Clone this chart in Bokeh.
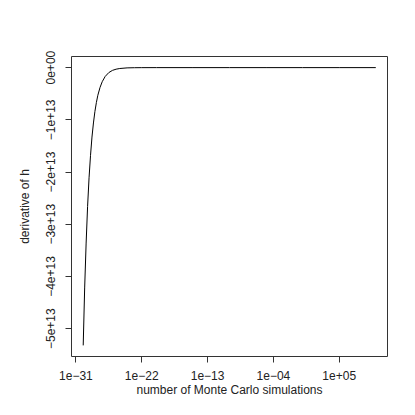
from bokeh.plotting import figure
from bokeh.models import Range1d, FixedTicker
from bokeh.embed import file_html
from bokeh.resources import INLINE

# data
sims = [1e-30, 10**-29.8, 10**-29.6, 10**-29.4, 10**-29.2, 1e-29, 10**-28.8, 10**-28.6,
        10**-28.4, 10**-28.2, 1e-28, 10**-27.7, 10**-27.4, 1e-27, 10**-26.5, 1e-26,
        10**-25.5, 1e-25, 1e-24, 1e-23, 1e-22, 1e-20, 1e-15, 1e-10, 1e-5, 1e0, 1e5, 1e10]
deriv = [-5.32e13, -4.22e13, -3.36e13, -2.66e13, -2.11e13, -1.68e13, -1.33e13, -1.06e13,
         -0.84e13, -0.67e13, -0.53e13, -0.38e13, -0.27e13, -0.17e13, -0.095e13, -0.053e13,
         -0.030e13, -0.017e13, -0.005e13, -0.0017e13, -0.0005e13, -0.00005e13, 0.0, 0.0, 0.0, 0.0, 0.0, 0.0]

x_ticks = [1e-31, 1e-22, 1e-13, 1e-4, 1e5]
x_tick_labels = ["1e\u221231", "1e\u221222", "1e\u221213", "1e\u221204", "1e+05"]
y_ticks = [0.0, -1e13, -2e13, -3e13, -4e13, -5e13]
y_tick_labels = ["0e+00", "\u22121e+13", "\u22122e+13", "\u22123e+13", "\u22124e+13", "\u22125e+13"]

FONT = "Liberation Sans"

p = figure(width=399, height=399, x_axis_type="log", output_backend="svg",
           toolbar_location=None,
           x_range=Range1d(10**-31.6, 10**11.6),
           y_range=Range1d(-5.533e13, 0.213e13),
           min_border_left=71, min_border_right=12, min_border_top=56, min_border_bottom=42)

p.line(sims, deriv, line_color="black", line_width=1)

p.grid.visible = False
p.outline_line_color = "#333333"
p.outline_line_width = 1
p.background_fill_color = "white"
p.border_fill_color = "white"

for ax in (p.xaxis[0], p.yaxis[0]):
    ax.axis_line_color = None
    ax.major_tick_line_color = "#333333"
    ax.major_tick_out = 6
    ax.major_tick_in = 0
    ax.minor_tick_line_color = None
    ax.major_label_text_font = FONT
    ax.major_label_text_font_size = "12px"
    ax.major_label_text_color = "#222222"
    ax.axis_label_text_font = FONT
    ax.axis_label_text_font_size = "12px"
    ax.axis_label_text_font_style = "normal"
    ax.axis_label_text_color = "#222222"

p.xaxis.ticker = FixedTicker(ticks=x_ticks)
p.xaxis.major_label_overrides = dict(zip(x_ticks, x_tick_labels))
p.xaxis.major_label_standoff = 8
p.xaxis.axis_label = "number of Monte Carlo simulations"
p.xaxis.axis_label_standoff = 0

p.yaxis.ticker = FixedTicker(ticks=y_ticks)
p.yaxis.major_label_overrides = dict(zip(y_ticks, y_tick_labels))
p.yaxis.major_label_orientation = "parallel"
p.yaxis.major_label_standoff = 10
p.yaxis.axis_label = "derivative of h"
p.yaxis.axis_label_standoff = 12

open("out.html", "w").write(file_html(p, INLINE))
